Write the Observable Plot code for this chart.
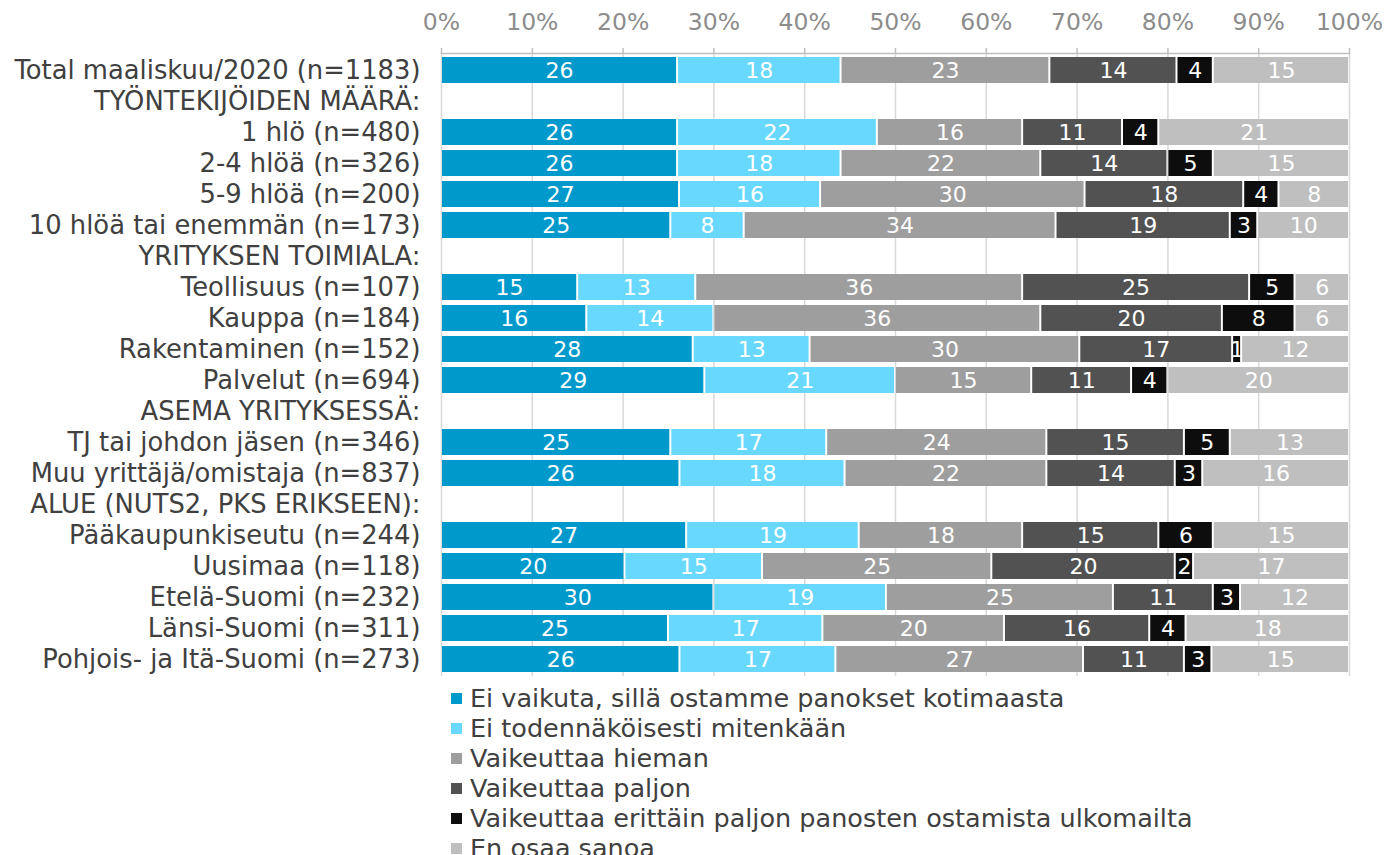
<!DOCTYPE html>
<html>
<head>
<meta charset="utf-8">
<script src="https://cdn.jsdelivr.net/npm/d3@7"></script>
<script src="https://cdn.jsdelivr.net/npm/@observablehq/plot@0.6"></script>
<style>
  body { margin: 0; background: #fff; font-family: "DejaVu Sans", sans-serif; }
  #legend { margin-left: 451px; margin-top: 3px; }
  .li { display: flex; align-items: center; height: 30px; font-size: 25.5px; color: #404040; white-space: nowrap; }
  .sw { width: 11px; height: 11px; margin-right: 8px; flex: none; }
</style>
</head>
<body>
<div id="chart"></div>
<div id="legend"></div>
<script>
// All rows in display order (header rows included)
const rows = [
  "Total maaliskuu/2020 (n=1183)",
  "TYÖNTEKIJÖIDEN MÄÄRÄ:",
  "1 hlö (n=480)",
  "2-4 hlöä (n=326)",
  "5-9 hlöä (n=200)",
  "10 hlöä tai enemmän (n=173)",
  "YRITYKSEN TOIMIALA:",
  "Teollisuus (n=107)",
  "Kauppa (n=184)",
  "Rakentaminen (n=152)",
  "Palvelut (n=694)",
  "ASEMA YRITYKSESSÄ:",
  "TJ tai johdon jäsen (n=346)",
  "Muu yrittäjä/omistaja (n=837)",
  "ALUE (NUTS2, PKS ERIKSEEN):",
  "Pääkaupunkiseutu (n=244)",
  "Uusimaa (n=118)",
  "Etelä-Suomi (n=232)",
  "Länsi-Suomi (n=311)",
  "Pohjois- ja Itä-Suomi (n=273)"
];

// Rows that carry bars
const dataRows = [
  "Total maaliskuu/2020 (n=1183)",
  "1 hlö (n=480)",
  "2-4 hlöä (n=326)",
  "5-9 hlöä (n=200)",
  "10 hlöä tai enemmän (n=173)",
  "Teollisuus (n=107)",
  "Kauppa (n=184)",
  "Rakentaminen (n=152)",
  "Palvelut (n=694)",
  "TJ tai johdon jäsen (n=346)",
  "Muu yrittäjä/omistaja (n=837)",
  "Pääkaupunkiseutu (n=244)",
  "Uusimaa (n=118)",
  "Etelä-Suomi (n=232)",
  "Länsi-Suomi (n=311)",
  "Pohjois- ja Itä-Suomi (n=273)"
];

const categories = [
  "Ei vaikuta, sillä ostamme panokset kotimaasta",
  "Ei todennäköisesti mitenkään",
  "Vaikeuttaa hieman",
  "Vaikeuttaa paljon",
  "Vaikeuttaa erittäin paljon panosten ostamista ulkomailta",
  "En osaa sanoa"
];

const colors = ["#0099cc", "#69d8ff", "#9e9e9e", "#525252", "#0d0d0d", "#bfbfbf"];

// Series values (percent), aligned with dataRows
const eiVaikuta      = [26, 26, 26, 27, 25, 15, 16, 28, 29, 25, 26, 27, 20, 30, 25, 26];
const eiTodennak     = [18, 22, 18, 16,  8, 13, 14, 13, 21, 17, 18, 19, 15, 19, 17, 17];
const vaikHieman     = [23, 16, 22, 30, 34, 36, 36, 30, 15, 24, 22, 18, 25, 25, 20, 27];
const vaikPaljon     = [14, 11, 14, 18, 19, 25, 20, 17, 11, 15, 14, 15, 20, 11, 16, 11];
const vaikErittain   = [ 4,  4,  5,  4,  3,  5,  8,  1,  4,  5,  3,  6,  2,  3,  4,  3];
const enOsaa         = [15, 21, 15,  8, 10,  6,  6, 12, 20, 13, 16, 15, 17, 12, 18, 15];

const series = [eiVaikuta, eiTodennak, vaikHieman, vaikPaljon, vaikErittain, enOsaa];

const xTicks = [0, 0.1, 0.2, 0.3, 0.4, 0.5, 0.6, 0.7, 0.8, 0.9, 1];

const data = [];
dataRows.forEach((row, i) => {
  categories.forEach((cat, j) => {
    data.push({row, cat, value: series[j][i]});
  });
});

const pct = d3.format(".0%");

const chart = Plot.plot({
  width: 1388,
  height: 680,
  marginLeft: 441,
  marginRight: 39,
  marginTop: 53,
  marginBottom: 4,
  style: { fontFamily: "DejaVu Sans, sans-serif", background: "#fff" },
  x: { domain: [0, 1], axis: null },
  y: { domain: rows, paddingInner: 0.17, paddingOuter: 0.085, axis: null },
  color: { domain: categories, range: colors },
  marks: [
    Plot.gridX(xTicks, { stroke: "#d9d9d9", strokeOpacity: 1, strokeWidth: 1.5 }),
    Plot.barX(data, Plot.stackX({
      offset: "normalize", x: "value", y: "row", fill: "cat",
      insetLeft: 1, insetRight: 1
    })),
    Plot.text(data, Plot.stackX({
      offset: "normalize", x: "value", y: "row", z: "cat",
      text: d => String(d.value), fill: "white", fontSize: 22
    })),
    Plot.frame({ anchor: "top", stroke: "#bfbfbf", strokeWidth: 1.5 }),
    Plot.axisX({
      anchor: "top", ticks: xTicks, tickFormat: pct, tickSize: 6, tickPadding: 18,
      fontSize: 23.5, fill: "#8c8c8c", stroke: "#bfbfbf", strokeWidth: 1.5, label: null
    }),
    Plot.axisY({
      tickSize: 0, tickPadding: 21, fontSize: 25.8, fill: "#404040", label: null
    })
  ]
});
document.getElementById("chart").appendChild(chart);

const legend = document.getElementById("legend");
categories.forEach((c, i) => {
  const item = document.createElement("div");
  item.className = "li";
  const sw = document.createElement("span");
  sw.className = "sw";
  sw.style.background = colors[i];
  const t = document.createElement("span");
  t.textContent = c;
  item.appendChild(sw);
  item.appendChild(t);
  legend.appendChild(item);
});
</script>
</body>
</html>
